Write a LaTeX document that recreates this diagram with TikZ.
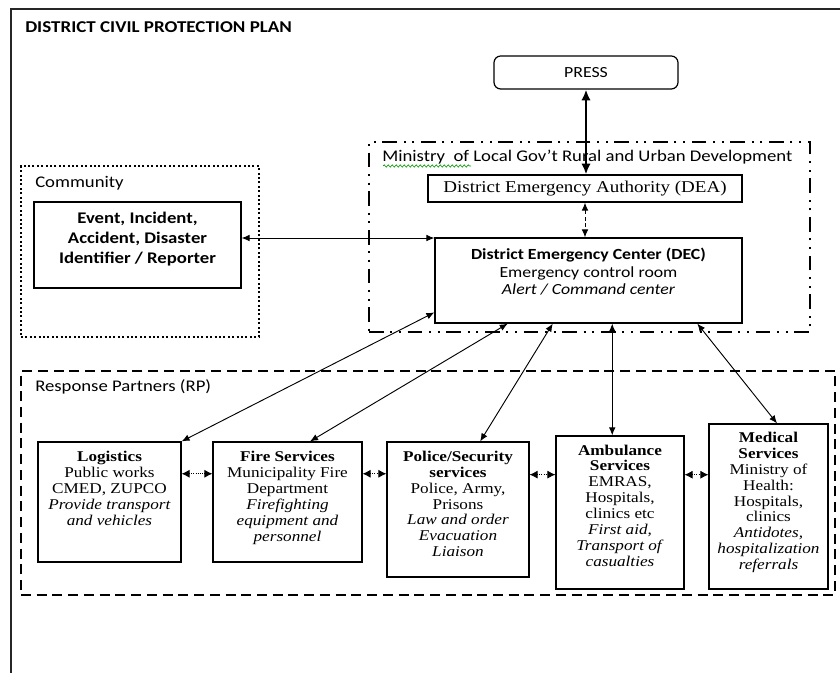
\documentclass[tikz,border=0pt]{standalone}
\usepackage{fontspec}
\setmainfont{Carlito}[FakeStretch=1.15]
\newfontfamily\tnr{Liberation Serif}[FakeStretch=1.15]
\usetikzlibrary{arrows.meta,calc,fit,decorations.pathmorphing}
\begin{document}
\begin{tikzpicture}[x=0.75pt,y=-0.75pt,
  box/.style={draw, line width=0.9pt, inner sep=0pt},
  stxt/.style={inner sep=0pt, align=center, font=\tnr\fontsize{11.2}{11.9}\selectfont},
  lbl/.style={inner sep=0pt, anchor=west, font=\fontsize{12.2}{14}\selectfont},
  conn/.style={line width=0.7pt, {Latex[length=6pt,width=5pt]}-{Latex[length=6pt,width=5pt]}},
  harr/.style={line width=0.6pt, densely dotted, {Latex[length=6pt,width=6pt]}-{Latex[length=6pt,width=6pt]}},
  grp/.style={inner sep=0pt, line width=1.6pt}]
\useasboundingbox (0,0) rectangle (840,673);

% outer frame
\draw[line width=1.8pt, black!85] (11,673) -- (11,9) -- (845,9);
\node[anchor=west, inner sep=0pt, font=\bfseries\fontsize{12.4}{14}\selectfont] (title) at (25,27) {DISTRICT CIVIL PROTECTION PLAN};

% PRESS
\node[box, rounded corners=5pt, fit={(494,56) (678,89)}] (press) {};
\node[inner sep=0pt, font=\fontsize{11.6}{13}\selectfont] (presst) at (press.center) {PRESS};

% Ministry group
\node[grp, draw, dash pattern=on 11pt off 5pt on 1.5pt off 5pt on 1.5pt off 5pt, fit={(369,142) (810,332)}] (min) {};
\node[lbl] (minl) at (382,157) {Ministry\ \ of Local Gov’t Rural and Urban Development};
\draw[green!60!black, line width=0.5pt, decorate, decoration={snake, amplitude=0.8pt, segment length=3pt}] (383,166) -- (471,166);

% DEA
\node[box, fit={(428,175) (742,202)}] (dea) {};
\node[inner sep=0pt, font=\tnr\fontsize{12.4}{14}\selectfont] (deat) at (dea.center) {District Emergency Authority (DEA)};

% DEC
\node[box, fit={(435,238) (742,323)}] (dec) {};
\node[inner sep=0pt, align=center, font=\fontsize{11.6}{13.1}\selectfont] (dect) at (588.5,272) {\textbf{District Emergency Center (DEC)}\\Emergency control room\\\textit{Alert / Command center}};

% Community group
\node[grp, draw, line width=1.9pt, dash pattern=on 1.5pt off 1.8pt, fit={(21,166) (259,337)}] (comm) {};
\node[lbl] (comml) at (35,183) {Community};
\node[box, fit={(34,202) (241,288)}] (ev) {};
\node[inner sep=0pt, align=center, font=\bfseries\fontsize{12.2}{15}\selectfont] (evt) at (137.5,239) {Event, Incident,\\Accident, Disaster\\Identifier / Reporter};

% Response partners group
\node[grp, draw, dash pattern=on 7.5pt off 4.3pt, fit={(21,371) (835,595)}] (rp) {};
\node[lbl] (rpl) at (35,387) {Response Partners (RP)};

% partner boxes
\node[box, fit={(38,442) (181,562)}] (log) {};
\node[stxt] (logt) at (109.5,488.5) {\textbf{Logistics}\\Public works\\CMED, ZUPCO\\\textit{Provide transport}\\\textit{and vehicles}};
\node[box, fit={(213,442) (362,562)}] (fire) {};
\node[stxt] (firet) at (287.5,498) {\textbf{Fire Services}\\Municipality Fire\\Department\\\textit{Firefighting}\\\textit{equipment and}\\\textit{personnel}};
\node[box, fit={(387,442) (529,577)}] (pol) {};
\node[stxt] (polt) at (458,504) {\textbf{Police/Security}\\\textbf{services}\\Police, Army,\\Prisons\\\textit{Law and order}\\\textit{Evacuation}\\\textit{Liaison}};
\node[box, fit={(556,436) (684,589)}] (amb) {};
\node[stxt] (ambt) at (620,505.5) {\textbf{Ambulance}\\\textbf{Services}\\EMRAS,\\Hospitals,\\clinics etc\\\textit{First aid,}\\\textit{Transport of}\\\textit{casualties}};
\node[box, fit={(709,424) (828,589)}] (med) {};
\node[stxt] (medt) at (768.5,502.5) {\textbf{Medical}\\\textbf{Services}\\Ministry of\\Health:\\Hospitals,\\clinics\\\textit{Antidotes,}\\\textit{hospitalization}\\\textit{referrals}};

% connectors
\draw[line width=2.2pt, {Latex[length=8pt,width=7pt]}-{Latex[length=8pt,width=7pt]}] (press.south) -- (press.south |- dea.north);
\draw[line width=0.7pt, dash pattern=on 3pt off 2pt, {Latex[length=6pt,width=5pt]}-{Latex[length=6pt,width=5pt]}] (dea.south) -- (dea.south |- dec.north);

\coordinate (evp) at ($(ev.north east)!0.42!(ev.south east)$);
\draw[conn] (evp) -- (evp -| dec.west);

\coordinate (d0) at ($(dec.north west)!0.87!(dec.south west)$);
\coordinate (d1) at ($(dec.south west)!0.238!(dec.south east)$);
\coordinate (d2) at ($(dec.south west)!0.384!(dec.south east)$);
\coordinate (d3) at ($(dec.south west)!0.577!(dec.south east)$);
\coordinate (d4) at ($(dec.south west)!0.853!(dec.south east)$);
\coordinate (f1) at ($(fire.north west)!0.65!(fire.north east)$);
\coordinate (p1) at ($(pol.north west)!0.655!(pol.north east)$);
\coordinate (a1) at (d3 |- amb.north);
\coordinate (m1) at ($(med.north west)!0.571!(med.north east)$);
\draw[conn] (d0) -- (log.north east);
\draw[conn] (d1) -- (f1);
\draw[conn] (d2) -- (p1);
\draw[conn] (d3) -- (a1);
\draw[conn] (d4) -- (m1);

\coordinate (h1) at ($(log.north east)!0.267!(log.south east)$);
\coordinate (h2) at ($(fire.north east)!0.267!(fire.south east)$);
\coordinate (h3) at ($(pol.north east)!0.244!(pol.south east)$);
\coordinate (h4) at ($(amb.north east)!0.255!(amb.south east)$);
\draw[harr] (h1) -- (h1 -| fire.west);
\draw[harr] (h2) -- (h2 -| pol.west);
\draw[harr] (h3) -- (h3 -| amb.west);
\draw[harr] (h4) -- (h4 -| med.west);
\end{tikzpicture}
\end{document}
